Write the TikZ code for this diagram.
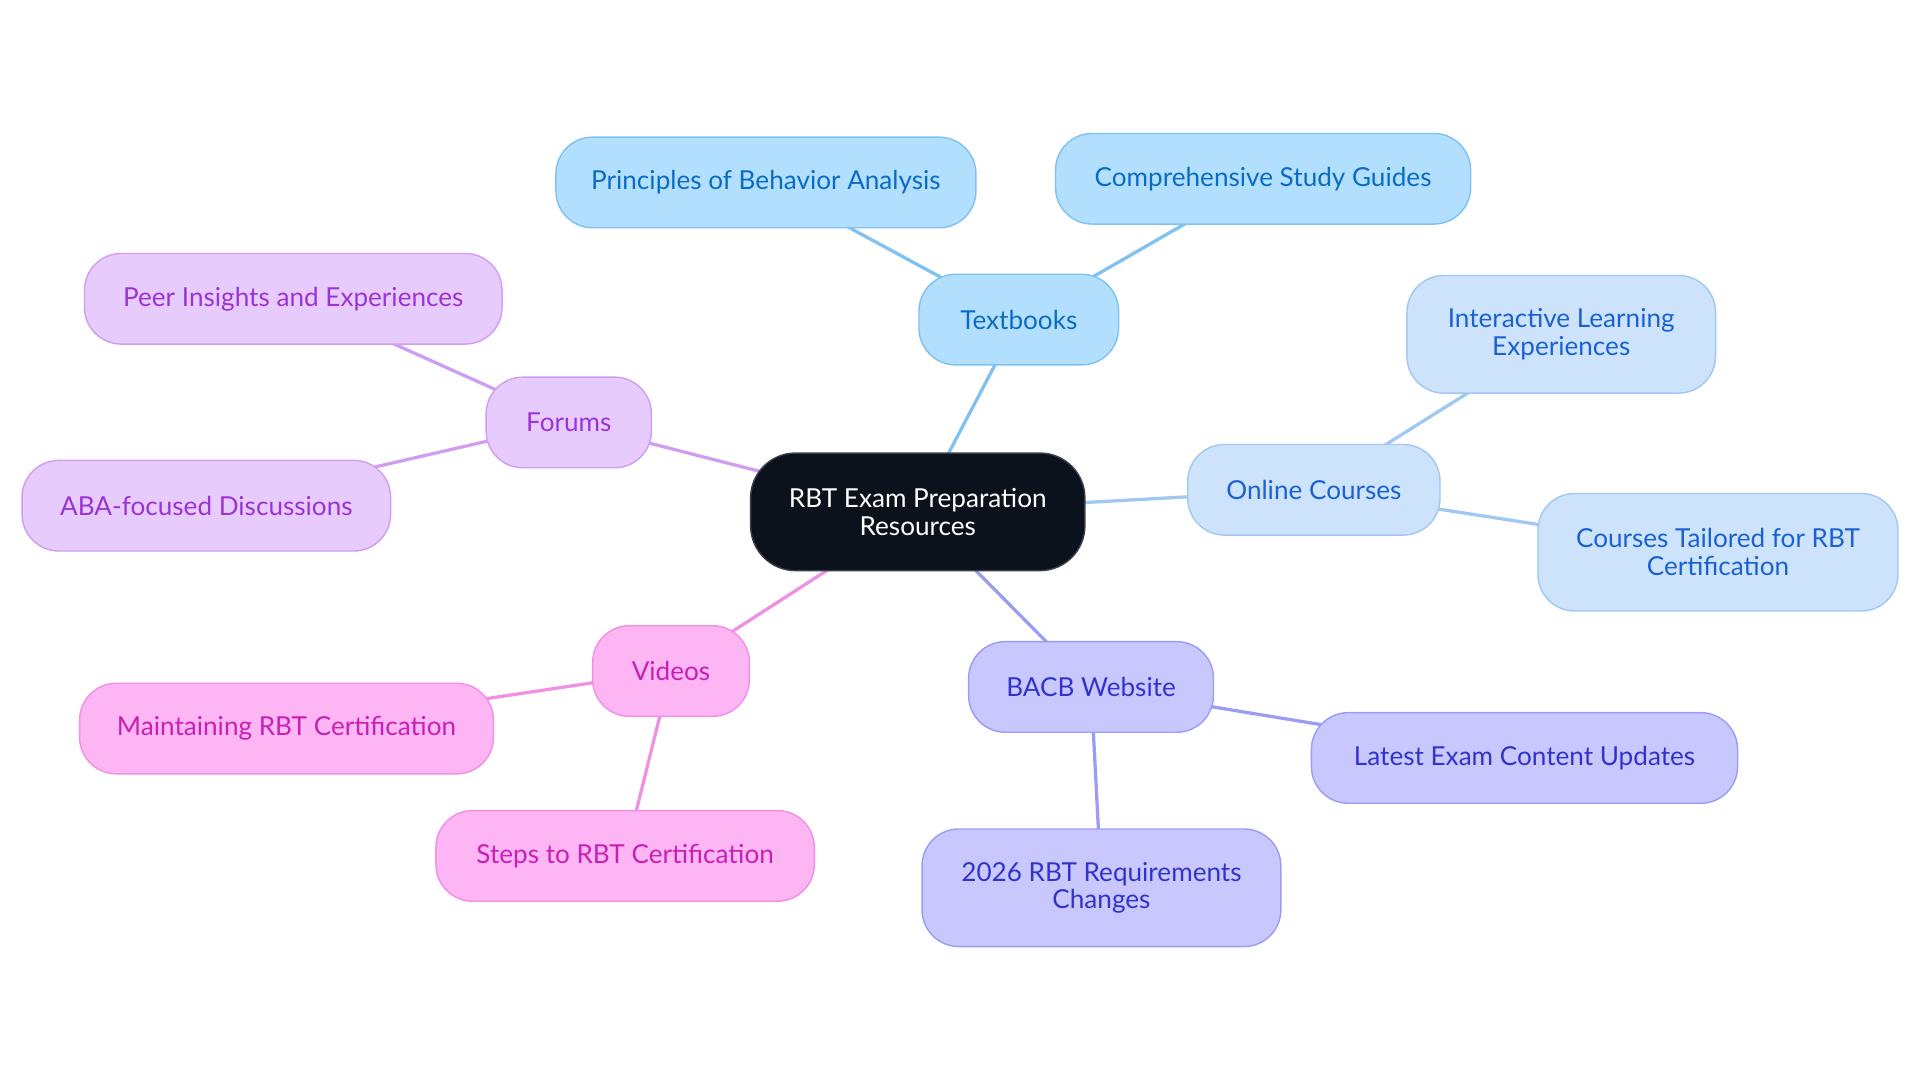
\documentclass[tikz,border=0pt]{standalone}
\usepackage{fontspec}
\setmainfont{Lato}
\usetikzlibrary{backgrounds}
\definecolor{tbfill}{HTML}{B3DFFE}\definecolor{tbdraw}{HTML}{7FC2F2}\definecolor{tbtext}{HTML}{0A6CC2}
\definecolor{ocfill}{HTML}{CDE3FB}\definecolor{ocdraw}{HTML}{A0C8F2}\definecolor{octext}{HTML}{1B62D0}
\definecolor{bafill}{HTML}{C8C8FE}\definecolor{badraw}{HTML}{9C9CF4}\definecolor{batext}{HTML}{3333CC}
\definecolor{vifill}{HTML}{FDB5F3}\definecolor{vidraw}{HTML}{F090E3}\definecolor{vitext}{HTML}{C81FB4}
\definecolor{fofill}{HTML}{E8CBFD}\definecolor{fodraw}{HTML}{CF9DF2}\definecolor{fotext}{HTML}{9B33D6}
\definecolor{cefill}{HTML}{0C121C}\definecolor{cedraw}{HTML}{3A3F47}
\begin{document}
\begin{tikzpicture}[x=0.6pt,y=-0.6pt,
  box/.style={rounded corners=18pt, line width=0.7pt, align=center, inner sep=0pt,
    font=\fontsize{12.8}{13.6}\selectfont, minimum height=44.4pt},
  tall/.style={minimum height=57.6pt},
  w/.style={minimum width=#1*0.6pt},
  tb/.style={box, fill=tbfill, draw=tbdraw, text=tbtext},
  oc/.style={box, fill=ocfill, draw=ocdraw, text=octext},
  ba/.style={box, fill=bafill, draw=badraw, text=batext},
  vi/.style={box, fill=vifill, draw=vidraw, text=vitext},
  fo/.style={box, fill=fofill, draw=fodraw, text=fotext},
  ce/.style={box, fill=cefill, draw=cedraw, text=white, rounded corners=22pt},
  link/.style={line width=1.6pt},
]
\useasboundingbox (0,0) rectangle (1568,884.5);
\node[ce, tall, w=273] (c) at (749.5,418) {RBT Exam Preparation\\Resources};
\node[tb, w=163] (tb) at (832,261) {Textbooks};
\node[tb, w=343] (tb1) at (625.5,149) {Principles of Behavior Analysis};
\node[tb, w=339] (tb2) at (1031.5,146) {Comprehensive Study Guides};
\node[oc, w=206] (oc) at (1073,400) {Online Courses};
\node[oc, tall, w=252] (oc1) at (1275,273) {Interactive Learning\\Experiences};
\node[oc, tall, w=294] (oc2) at (1403,451) {Courses Tailored for RBT\\Certification};
\node[ba, w=200] (ba) at (891,561) {BACB Website};
\node[ba, w=348] (ba1) at (1245,619) {Latest Exam Content Updates};
\node[ba, tall, w=293] (ba2) at (899.5,725) {2026 RBT Requirements\\Changes};
\node[vi, w=128] (vi) at (548,548) {Videos};
\node[vi, w=338] (vi1) at (234,595) {Maintaining RBT Certification};
\node[vi, w=309] (vi2) at (510.5,699) {Steps to RBT Certification};
\node[fo, w=135] (fo) at (464.5,345) {Forums};
\node[fo, w=341] (fo1) at (239.5,244) {Peer Insights and Experiences};
\node[fo, w=301] (fo2) at (168.5,413) {ABA-focused Discussions};
\begin{scope}[on background layer]
\draw[link, tbdraw] (c.center) -- (tb.center) (tb.center) -- (tb1.center) (tb.center) -- (tb2.center);
\draw[link, ocdraw] (c.center) -- (oc.center) (oc.center) -- (oc1.center) (oc.center) -- (oc2.center);
\draw[link, badraw] (c.center) -- (ba.center) (ba.center) -- (ba1.center) (ba.center) -- (ba2.center);
\draw[link, vidraw] (c.center) -- (vi.center) (vi.center) -- (vi1.center) (vi.center) -- (vi2.center);
\draw[link, fodraw] (c.center) -- (fo.center) (fo.center) -- (fo1.center) (fo.center) -- (fo2.center);
\end{scope}
\end{tikzpicture}
\end{document}
